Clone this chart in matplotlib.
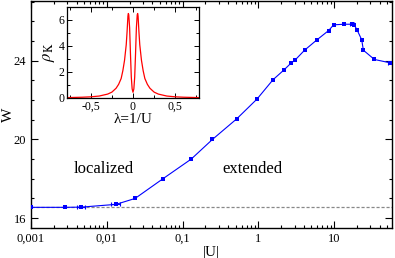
import matplotlib
matplotlib.use("Agg")
import matplotlib.pyplot as plt
from matplotlib.ticker import LogLocator, NullFormatter, MultipleLocator

plt.rcParams["font.family"] = ["Liberation Serif", "DejaVu Serif"]
plt.rcParams["mathtext.fontset"] = "stix"

# main curve: W versus |U|
U = [0.001, 0.0028, 0.0046, 0.0132, 0.0236, 0.055, 0.13, 0.248, 0.52, 0.96,
     1.56, 2.18, 2.69, 3.07, 4.07, 5.94, 8.46, 9.85, 13.6, 17.2, 18.5, 20.2,
     23.1, 24.3, 34.0, 54.7]
W = [16.55, 16.55, 16.56, 16.70, 17.0, 18.0, 19.0, 20.0, 21.05, 22.05,
     23.03, 23.53, 23.87, 24.04, 24.53, 25.06, 25.53, 25.82, 25.85, 25.85,
     25.80, 25.54, 25.06, 24.53, 24.06, 23.89]
U_err_idx = [2, 3, 19, 25]
U_err_rel = [0.12, 0.13, 0.05, 0.06]
W_threshold = 16.55

xtick_vals = [0.001, 0.01, 0.1, 1, 10]
xtick_labels = ["0,001", "0,01", "0,1", "1", "10"]
ytick_vals = [16, 20, 24]

# inset: rho_K versus lambda = 1/U (right half, mirrored)
lam_half = [0.0, 0.01, 0.02, 0.03, 0.04, 0.05, 0.055, 0.06, 0.07, 0.08, 0.10,
            0.12, 0.14, 0.17, 0.20, 0.25, 0.30, 0.40, 0.50, 0.60, 0.78]
rho_half = [0.44, 0.7, 1.6, 3.4, 5.4, 6.4, 6.5, 6.3, 5.1, 4.1, 2.9,
            2.1, 1.5, 1.05, 0.75, 0.45, 0.30, 0.15, 0.09, 0.06, 0.03]
lam = [-v for v in lam_half[:0:-1]] + lam_half
rho = rho_half[:0:-1] + rho_half
inset_xticks = [-0.5, 0, 0.5]
inset_xlabels = ["-0,5", "0", "0,5"]

fig = plt.figure(figsize=(3.95, 2.58), dpi=100)
ax = fig.add_axes([31 / 395, 30 / 258, 361 / 395, 227 / 258])

ax.axhline(W_threshold, color="#888888", linewidth=0.9, linestyle=(0, (2.5, 1.5)))
ax.plot(U, W, color="blue", linewidth=0.8, marker="s", markersize=3.2,
        markeredgewidth=0, zorder=3)
ex = [U[i] for i in U_err_idx]
ey = [W[i] for i in U_err_idx]
eerr = [[U[i] * r for i, r in zip(U_err_idx, U_err_rel)],
        [U[i] * r for i, r in zip(U_err_idx, U_err_rel)]]
ax.errorbar(ex, ey, xerr=eerr, fmt="none", ecolor="blue", elinewidth=0.8,
            capsize=1.5, capthick=0.8)

ax.set_xscale("log")
ax.set_xlim(0.001, 58)
ax.set_ylim(15.5, 27.03)
ax.set_xticks(xtick_vals)
ax.set_xticklabels(xtick_labels)
ax.xaxis.set_minor_locator(LogLocator(base=10, subs=range(2, 10), numticks=20))
ax.xaxis.set_minor_formatter(NullFormatter())
ax.set_yticks(ytick_vals)
ax.yaxis.set_minor_locator(MultipleLocator(1))
ax.tick_params(which="both", direction="in", top=True, right=True, labelsize=9)
ax.tick_params(which="major", length=5, width=0.8)
ax.tick_params(which="minor", length=2.5, width=0.8)
for s in ax.spines.values():
    s.set_linewidth(1.0)
ax.set_xlabel("|U|", fontsize=11, labelpad=1)
ax.set_ylabel("W", fontsize=11)
ax.yaxis.set_label_coords(-0.043, 0.5)

ax.text(0.0091, 18.28, "localized", fontsize=12, ha="center", va="baseline")
ax.text(0.83, 18.28, "extended", fontsize=12, ha="center", va="baseline")

# inset
ins = fig.add_axes([67 / 395, 160 / 258, 132 / 395, 91 / 258])
ins.plot(lam, rho, color="red", linewidth=0.9)
ins.set_xlim(-0.78, 0.78)
ins.set_ylim(0, 7)
ins.set_xticks(inset_xticks)
ins.set_xticklabels(inset_xlabels)
ins.xaxis.set_minor_locator(MultipleLocator(0.25))
ins.set_yticks([0, 2, 4, 6])
ins.yaxis.set_minor_locator(MultipleLocator(1))
ins.tick_params(which="both", direction="in", top=True, right=True, labelsize=8.5, pad=2)
ins.tick_params(which="major", length=3.5, width=0.7)
ins.tick_params(which="minor", length=2, width=0.7)
for s in ins.spines.values():
    s.set_linewidth(0.9)
ins.set_xlabel("λ=1/U", fontsize=11, labelpad=0)
ins.set_ylabel(r"$\rho_{\mathrm{K}}$", fontsize=12, labelpad=1)

fig.savefig("out.png", dpi=100)
